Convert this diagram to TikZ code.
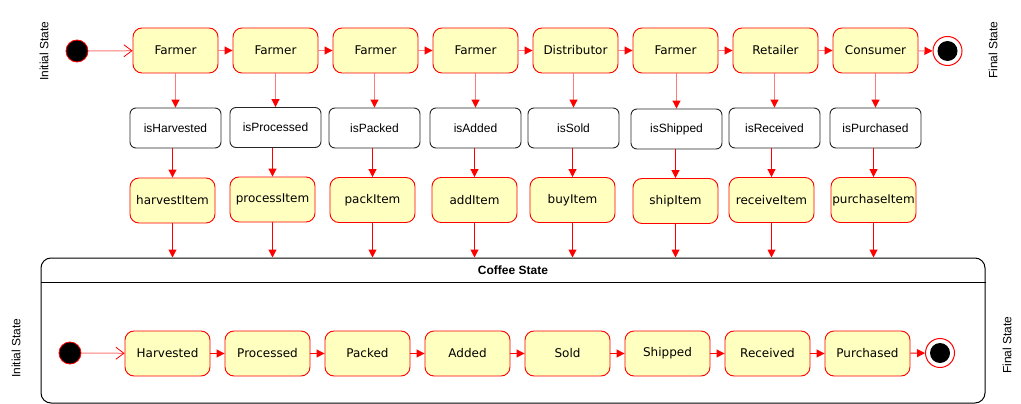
\documentclass[tikz,border=0pt]{standalone}
\usepackage{fontspec}
\setmainfont{Liberation Sans}
\newfontfamily\dv{DejaVu Sans}
\usetikzlibrary{arrows.meta}
\definecolor{stfill}{HTML}{FFFFC0}
\definecolor{lred}{HTML}{FF7A7A}
\definecolor{sred}{HTML}{FF0000}
\begin{document}
\begin{tikzpicture}[x=1pt,y=-1pt,
 state/.style={draw=sred, fill=stfill, rounded corners=9pt, minimum width=85pt, minimum height=45pt, font=\dv\fontsize{12}{14}\selectfont, line width=0.9pt, inner sep=0pt},
 guard/.style={draw=black!85, rounded corners=6pt, minimum width=91pt, minimum height=40pt, font=\fontsize{12}{14}\selectfont, line width=0.9pt, inner sep=0pt},
 ini/.style={circle, fill=black, draw=sred, minimum size=22pt, inner sep=0pt, line width=0.8pt},
 fin/.style={circle, draw=sred, fill=white, minimum size=29pt, inner sep=0pt, line width=1pt},
 tr/.style={draw=lred, line width=1pt, -{Triangle[length=8pt,width=8pt,color=sred]}},
 trr/.style={draw=sred, line width=1pt, -{Triangle[length=8pt,width=8pt,color=sred]}},
 opentr/.style={draw=lred, line width=1pt, -{Straight Barb[length=8pt,width=12pt,color=sred,line width=0.8pt]}},
 side/.style={rotate=90, font=\fontsize{12}{14}\selectfont, inner sep=0pt}
]
\useasboundingbox (0,0) rectangle (1021,404);

% side labels
\node[side] (s1) at (44,51) {Initial State};
\node[side] (s2) at (993,50) {Final State};
\node[side] (s3) at (16,348) {Initial State};
\node[side] (s4) at (1007,345) {Final State};

% top row
\node[ini] (init) at (77,51) {};
\node[state] (t1) at (175.5,50.5) {Farmer};
\node[state] (t2) at (275.5,50.5) {Farmer};
\node[state] (t3) at (375.5,50.5) {Farmer};
\node[state] (t4) at (475.5,50.5) {Farmer};
\node[state] (t5) at (575.5,50.5) {Distributor};
\node[state] (t6) at (675.5,50.5) {Farmer};
\node[state] (t7) at (775.5,50.5) {Retailer};
\node[state] (t8) at (875.5,50.5) {Consumer};
\node[fin] (fin) at (947.5,51) {};
\fill[black] (fin.center) circle (10pt);

\draw[opentr] (init) -- (t1);
\foreach \a/\b in {t1/t2,t2/t3,t3/t4,t4/t5,t5/t6,t6/t7,t7/t8,t8/fin}
  \draw[tr] (\a) -- (\b);

% guards
\node[guard] (d1) at (175.5,128) {isHarvested};
\node[guard] (d2) at (275.5,127.5) {isProcessed};
\node[guard] (d3) at (374.5,128) {isPacked};
\node[guard] (d4) at (475.5,128) {isAdded};
\node[guard] (d5) at (573.5,128) {isSold};
\node[guard] (d6) at (676.5,129) {isShipped};
\node[guard] (d7) at (774.5,128) {isReceived};
\node[guard] (d8) at (875.5,128) {isPurchased};

% items
\node[state] (i1) at (172.5,200.5) {harvestItem};
\node[state] (i2) at (272.5,199.5) {processItem};
\node[state] (i3) at (372.5,200) {packItem};
\node[state] (i4) at (474.5,200) {addItem};
\node[state] (i5) at (572.5,200) {buyItem};
\node[state] (i6) at (675.5,201) {shipItem};
\node[state] (i7) at (771.5,200) {receiveItem};
\node[state] (i8) at (873.5,200) {purchaseItem};

% container
\node[draw=black, line width=1pt, rounded corners=10pt, minimum width=944pt, minimum height=145pt, inner sep=0pt] (cs) at (513,330.5) {};
\coordinate (hl) at (0,282.5);
\draw[line width=1pt] (cs.west |- hl) -- (cs.east |- hl);
\node[font=\bfseries\fontsize{12}{14}\selectfont] (ttl) at (513,270) {Coffee State};

\draw[tr] (t1.south -| d1) -- (d1.north);
\draw[tr] (t2.south -| d2) -- (d2.north);
\draw[tr] (t3.south -| d3) -- (d3.north);
\draw[tr] (t4.south -| d4) -- (d4.north);
\draw[tr] (t5.south -| d5) -- (d5.north);
\draw[tr] (t6.south -| d6) -- (d6.north);
\draw[tr] (t7.south -| d7) -- (d7.north);
\draw[tr] (t8.south -| d8) -- (d8.north);

\draw[trr] (i1.north |- d1.south) -- (i1.north);
\draw[trr] (i2.north |- d2.south) -- (i2.north);
\draw[trr] (i3.north |- d3.south) -- (i3.north);
\draw[trr] (i4.north |- d4.south) -- (i4.north);
\draw[trr] (i5.north |- d5.south) -- (i5.north);
\draw[trr] (i6.north |- d6.south) -- (i6.north);
\draw[trr] (i7.north |- d7.south) -- (i7.north);
\draw[trr] (i8.north |- d8.south) -- (i8.north);

\draw[trr] (i1.south) -- (i1.south |- cs.north);
\draw[trr] (i2.south) -- (i2.south |- cs.north);
\draw[trr] (i3.south) -- (i3.south |- cs.north);
\draw[trr] (i4.south) -- (i4.south |- cs.north);
\draw[trr] (i5.south) -- (i5.south |- cs.north);
\draw[trr] (i6.south) -- (i6.south |- cs.north);
\draw[trr] (i7.south) -- (i7.south |- cs.north);
\draw[trr] (i8.south) -- (i8.south |- cs.north);

% bottom row
\node[ini] (init2) at (70,353) {};
\node[state] (b1) at (167.5,353.5) {Harvested};
\node[state] (b2) at (267.5,353.5) {Processed};
\node[state] (b3) at (367.5,353.5) {Packed};
\node[state] (b4) at (467.5,353.5) {Added};
\node[state] (b5) at (567.5,353.5) {Sold};
\node[state] (b6) at (667.5,353.5) {Shipped};
\node[state] (b7) at (767.5,353.5) {Received};
\node[state] (b8) at (867.5,353.5) {Purchased};
\node[fin] (fin2) at (940,353) {};
\fill[black] (fin2.center) circle (10pt);

\draw[opentr] (init2) -- (b1);
\foreach \a/\b in {b1/b2,b2/b3,b3/b4,b4/b5,b5/b6,b6/b7,b7/b8,b8/fin2}
  \draw[trr] (\a) -- (\b);
\end{tikzpicture}
\end{document}
